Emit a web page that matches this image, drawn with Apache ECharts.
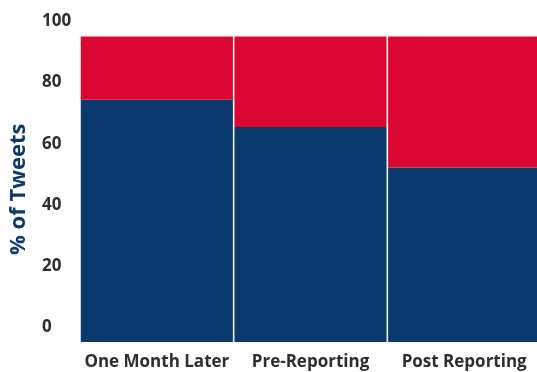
<!DOCTYPE html>
<html>
<head>
<meta charset="utf-8">
<script src="https://cdn.jsdelivr.net/npm/echarts@6/dist/echarts.min.js"></script>
<style>html,body{margin:0;padding:0;background:#fff}#c{width:537px;height:372px}</style>
</head>
<body>
<div id="c"></div>
<script>
var categories = ["One Month Later", "Pre-Reporting", "Post Reporting"];
var blueValues = [79.3, 70.4, 57.1];
var redValues = [20.7, 29.6, 42.9];
var yTicks = [0, 20, 40, 60, 80, 100];

var chart = echarts.init(document.getElementById('c'));
chart.setOption({
  animation: false,
  grid: {left: 80, top: 36.5, width: 461, bottom: 30, containLabel: false, outerBoundsMode: 'none'},
  xAxis: {
    type: 'category',
    data: categories,
    axisLine: {show: false},
    axisTick: {show: false},
    axisLabel: {interval: 0, margin: 12, color: '#2e2e2e', fontSize: 17, fontWeight: 'bold', fontFamily: 'Open Sans'}
  },
  yAxis: {
    type: 'value',
    min: yTicks[0], max: yTicks[yTicks.length - 1], interval: 20,
    name: '% of Tweets',
    nameLocation: 'middle',
    nameRotate: 90,
    nameGap: 50,
    nameTextStyle: {color: '#0b3a6e', fontSize: 22, fontWeight: 'bold', fontFamily: 'Open Sans'},
    splitLine: {show: false},
    axisLine: {show: false},
    axisTick: {show: false},
    axisLabel: {
      margin: 38, align: 'left', verticalAlign: 'bottom', lineHeight: 30,
      color: '#2e2e2e', fontSize: 17, fontWeight: 'bold', fontFamily: 'Open Sans'
    }
  },
  series: [
    {type: 'bar', stack: 's', data: blueValues, barCategoryGap: '1%', itemStyle: {color: '#0a3a6d'}},
    {type: 'bar', stack: 's', data: redValues, barCategoryGap: '1%', itemStyle: {color: '#db0632'}}
  ]
});
</script>
</body>
</html>
